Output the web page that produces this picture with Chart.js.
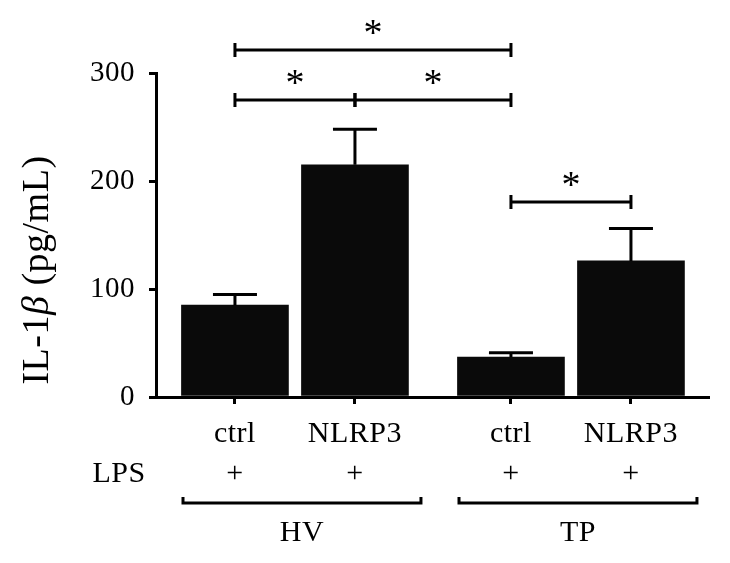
<!DOCTYPE html>
<html>
<head>
<meta charset="utf-8">
<script src="https://cdn.jsdelivr.net/npm/chart.js@4.4.1/dist/chart.umd.min.js"></script>
<style>
  html, body { margin: 0; padding: 0; background: #fff; }
  #wrap { width: 730px; height: 563px; }
</style>
</head>
<body>
<div id="wrap"><canvas id="myChart" width="730" height="563"></canvas></div>
<script>
// data
const categories = ['ctrl', 'NLRP3', 'ctrl', 'NLRP3'];
const lps = ['+', '+', '+', '+'];
const groups = ['HV', 'TP'];
const groupOf = [0, 0, 1, 1];
const means = [85, 215, 37, 126];
const errors = [10, 33, 4, 30];
const yTicks = [0, 100, 200, 300];
// significance brackets: [from bar, to bar, height in pg/mL]
const sigFrom = [0, 0, 1, 2];
const sigTo = [2, 1, 2, 3];
const sigLevel = [321, 275, 275, 181];

const FONT = "'Liberation Serif', 'DejaVu Serif', serif";
const groupGap = 1.3;
const xPos = categories.map((c, i) => i + (groupGap - 1) * groupOf[i]);

const spacing = {
    id: 'spacing',
    beforeUpdate(chart) { chart.ctx.letterSpacing = '0.5px'; },
    beforeDraw(chart) { chart.ctx.letterSpacing = '0.5px'; }
};

const extras = {
    id: 'extras',
    afterDraw(chart) {
        const c = chart.ctx;
        const x = chart.scales.x;
        const y = chart.scales.y;
        c.save();
        c.strokeStyle = '#000';
        c.fillStyle = '#000';
        c.lineWidth = 3;

        // error bars
        means.forEach((m, i) => {
            const px = x.getPixelForValue(xPos[i]);
            const top = y.getPixelForValue(m + errors[i]);
            c.beginPath();
            c.moveTo(px, y.getPixelForValue(m));
            c.lineTo(px, top);
            c.moveTo(px - 22, top);
            c.lineTo(px + 22, top);
            c.stroke();
        });

        // significance brackets
        c.textAlign = 'center';
        c.textBaseline = 'alphabetic';
        sigFrom.forEach((f, k) => {
            const x1 = x.getPixelForValue(xPos[f]);
            const x2 = x.getPixelForValue(xPos[sigTo[k]]);
            const py = Math.round(y.getPixelForValue(sigLevel[k]));
            c.beginPath();
            c.moveTo(x1, py); c.lineTo(x2, py);
            c.moveTo(x1, py - 7); c.lineTo(x1, py + 7);
            c.moveTo(x2, py - 7); c.lineTo(x2, py + 7);
            c.stroke();
            c.letterSpacing = '0px';
            c.font = '38px ' + FONT;
            c.fillText('*', (x1 + x2) / 2, py - 5);
        });

        c.letterSpacing = '0.5px';
        c.font = '30px ' + FONT;
        c.textBaseline = 'middle';

        // LPS row label
        c.fillText('LPS', 119, 474);

        // group brackets
        groups.forEach((g, gi) => {
            const idx = groupOf.map((v, i) => v === gi ? i : -1).filter(i => i >= 0);
            const x1 = x.getPixelForValue(xPos[idx[0]] - 0.433);
            const x2 = x.getPixelForValue(xPos[idx[idx.length - 1]] + 0.55);
            const py = 503;
            c.beginPath();
            c.moveTo(x1, py - 6); c.lineTo(x1, py); c.lineTo(x2, py); c.lineTo(x2, py - 6);
            c.stroke();
            c.fillText(g, (x1 + x2) / 2, 533);
        });

        // y axis title with italic beta
        c.letterSpacing = '0.5px';
        c.translate(38, 270);
        c.rotate(-Math.PI / 2);
        const parts = [['IL-1', 'normal'], ['\u03b2', 'italic'], [' (pg/mL)', 'normal']];
        let total = 0;
        parts.forEach(p => {
            c.font = p[1] + ' 38px ' + FONT;
            total += c.measureText(p[0]).width;
        });
        let cx = -total / 2;
        c.textAlign = 'left';
        parts.forEach(p => {
            c.font = p[1] + ' 38px ' + FONT;
            c.fillText(p[0], cx, 0);
            cx += c.measureText(p[0]).width;
        });
        c.restore();
    }
};

const ctx = document.getElementById('myChart');

new Chart(ctx, {
    type: 'bar',
    data: {
        datasets: [{
            data: means.map((m, i) => ({ x: xPos[i], y: m })),
            backgroundColor: '#0a0a0a',
            barThickness: 107
        }]
    },
    options: {
        responsive: false,
        animation: false,
        layout: { padding: { left: 0, top: 73, right: 22, bottom: 0 } },
        plugins: { legend: { display: false }, tooltip: { enabled: false } },
        scales: {
            x: {
                type: 'linear',
                min: -0.658,
                max: 3.942,
                offset: false,
                afterBuildTicks: s => { s.ticks = xPos.map(v => ({ value: v })); },
                afterFit: s => { s.height = 166; },
                grid: { offset: false, drawOnChartArea: false, tickLength: 7, color: '#000', lineWidth: 3 },
                border: { color: '#000', width: 3 },
                ticks: {
                    autoSkip: false,
                    maxRotation: 0,
                    padding: 10,
                    color: '#000',
                    font: { family: FONT, size: 30, lineHeight: 1.33 },
                    callback: (v, i) => [categories[i], lps[i]]
                }
            },
            y: {
                min: 0,
                max: 300,
                afterBuildTicks: s => { s.ticks = yTicks.map(v => ({ value: v })); },
                afterFit: s => { s.width = 156; },
                grid: { drawOnChartArea: false, tickLength: 7, color: '#000', lineWidth: 3 },
                border: { color: '#000', width: 3 },
                ticks: {
                    padding: 14,
                    color: '#000',
                    font: { family: FONT, size: 29 }
                }
            }
        }
    },
    plugins: [spacing, extras]
});
</script>
</body>
</html>
